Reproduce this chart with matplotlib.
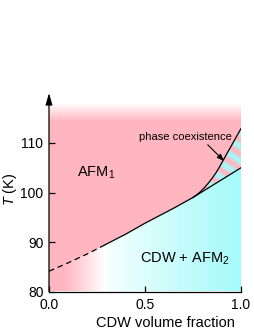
import numpy as np
import matplotlib.pyplot as plt
from matplotlib.colors import to_rgb

plt.rcParams['font.family'] = ['Liberation Sans', 'DejaVu Sans']
plt.rcParams['mathtext.fontset'] = 'custom'
plt.rcParams['mathtext.rm'] = 'Liberation Sans'
plt.rcParams['mathtext.it'] = 'Liberation Sans:italic'

# boundaries
lower_x = [0.0, 0.1, 0.2, 0.29, 0.4, 0.5, 0.648, 0.75, 0.85, 0.95, 1.0]
lower_T = [84.1, 85.8, 87.6, 89.4, 91.6, 93.8, 96.8, 99.0, 101.4, 103.8, 105.0]
upper_x = [0.75, 0.77, 0.79, 0.81, 0.83, 0.85, 0.87, 0.89, 0.91, 0.93, 0.955, 0.975, 1.0]
upper_T = [99.0, 99.55, 100.2, 101.0, 101.9, 102.9, 104.0, 105.3, 106.7, 108.1, 109.8, 111.2, 112.9]
dash_end = 0.29

xticks = [0.0, 0.5, 1.0]
xticklabels = ['0.0', '0.5', '1.0']
yticks = [80, 90, 100, 110]

pink = np.array(to_rgb('#ffb6c0'))
cyan = np.array(to_rgb('#a4fafa'))
white = np.ones(3)

fig = plt.figure(figsize=(2.55, 3.3), dpi=100)
ax = fig.add_axes([49/255, (330-291.5)/330, 192/255, (291.5-93)/330])
ymax = 80 + (291.5-93)/4.95
ax.set_xlim(0, 1)
ax.set_ylim(80, ymax)

ext = [0, 1, 80, ymax]

# bottom region: horizontal gradient pink -> white -> cyan
gx = np.linspace(0, 1, 400)
w_pink = np.clip((0.29 - gx) / 0.21, 0, 1)
w_cyan = np.clip((gx - 0.27) / 0.73, 0, 1) ** 0.85
row = white * (1 - w_pink[:, None] - w_cyan[:, None]) + pink * w_pink[:, None] + cyan * w_cyan[:, None]
img_bot = np.repeat(row[None, :, :], 2, axis=0)
im1 = ax.imshow(img_bot, extent=ext, aspect='auto', origin='lower', interpolation='bilinear')
fb = ax.fill_between(lower_x, 80, lower_T, color='none', lw=0)
im1.set_clip_path(fb.get_paths()[0], transform=ax.transData)

# upper region: pink fading to white at the top
gy = np.linspace(80, ymax, 400)
a = np.clip((117.9 - gy) / 3.6, 0, 1)
col = white * (1 - a[:, None]) + pink * a[:, None]
img_top = np.repeat(col[:, None, :], 2, axis=1)
im2 = ax.imshow(img_top, extent=ext, aspect='auto', origin='lower', interpolation='bilinear')
top_x = lower_x[:8] + upper_x[1:]
top_T = lower_T[:8] + upper_T[1:]
ft = ax.fill_between(top_x, top_T, ymax, color='none', lw=0)
im2.set_clip_path(ft.get_paths()[0], transform=ax.transData)

# coexistence region: blurred stripes
sx, sy = np.meshgrid(np.linspace(0, 1, 300), np.linspace(80, ymax, 300))
px = sx * 192
py = (sy - 80) * 4.95
s = 0.5 + 0.5 * np.sin(2 * np.pi * (0.55 * px + 0.83 * py) / 12.0)
img_mid = pink * s[..., None] + cyan * (1 - s[..., None])
im3 = ax.imshow(img_mid, extent=ext, aspect='auto', origin='lower', interpolation='bilinear')
cx = np.linspace(0.75, 1.0, 80)
fc = ax.fill_between(cx, np.interp(cx, lower_x, lower_T), np.interp(cx, upper_x, upper_T),
                     color='none', lw=0)
im3.set_clip_path(fc.get_paths()[0], transform=ax.transData)

# boundary lines
lx = np.array(lower_x)
lt = np.array(lower_T)
dm = lx <= dash_end
ax.plot(lx[dm], lt[dm], color='black', lw=0.9, ls=(0, (4.5, 3)))
ax.plot(lx[lx >= dash_end], lt[lx >= dash_end], color='black', lw=0.9)
ax.plot(upper_x, upper_T, color='black', lw=0.9)

# axes styling
for sp in ['top', 'right', 'left']:
    ax.spines[sp].set_visible(False)
ax.spines['bottom'].set_linewidth(0.9)
ax.annotate('', xy=(0, ymax), xytext=(0, 80), xycoords='data',
            arrowprops=dict(arrowstyle='-|>,head_length=0.7,head_width=0.2', color='black',
                            lw=0.9, shrinkA=0, shrinkB=0), annotation_clip=False)
ax.set_xticks(xticks)
ax.set_xticklabels(xticklabels)
ax.set_yticks(yticks)
ax.tick_params(direction='in', length=4, width=0.9, labelsize=10)
ax.tick_params(axis='x', pad=4.5)
ax.tick_params(axis='y', pad=4)

ax.set_xlabel('CDW volume fraction', fontsize=10.5)
ax.xaxis.set_label_coords(0.604, -0.125)
fig.text(10.5/255, 1 - 189/330, '$T$ (K)', fontsize=10.5, rotation=90,
         ha='center', va='center')

ax.text(0.146, 103.9, 'AFM$_1$', fontsize=10.5, va='center', ha='left')
ax.text(0.474, 86.7, 'CDW + AFM$_2$', fontsize=10.5, va='center', ha='left')
ax.annotate('phase coexistence', xy=(0.911, 106.4), xytext=(0.469, 111.2),
            fontsize=8, va='center', ha='left',
            arrowprops=dict(arrowstyle='-|>,head_length=0.5,head_width=0.2', color='black',
                            lw=0.8, shrinkA=0, shrinkB=0, relpos=(0.71, 0.0)))

fig.savefig('out.png', dpi=100)
